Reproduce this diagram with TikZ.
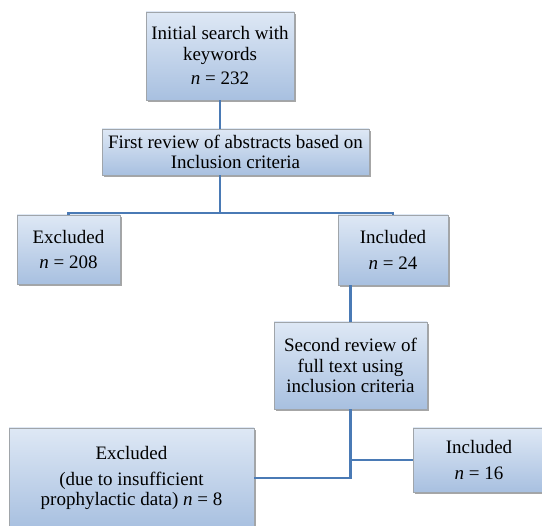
\documentclass[tikz,border=0pt]{standalone}
\usepackage{fontspec}
\setmainfont{Liberation Serif}
\usetikzlibrary{shadows}
\definecolor{boxtop}{RGB}{222,232,245}
\definecolor{boxbot}{RGB}{168,192,224}
\definecolor{boxline}{RGB}{160,165,170}
\definecolor{flowline}{RGB}{74,122,181}
\newcommand{\nn}{\textit{n}}
\begin{document}
\begin{tikzpicture}[x=1pt,y=-1pt,
  box/.style={draw=boxline,line width=0.8pt,top color=boxtop,bottom color=boxbot,
    drop shadow={shadow xshift=1.8pt,shadow yshift=-2pt,fill=black,opacity=0.35},
    align=center,inner sep=2pt,font=\fontsize{19}{20.5}\selectfont},
  link/.style={draw=flowline,line width=2.6pt}]
\useasboundingbox (0,0) rectangle (542,526);
\clip (0,0) rectangle (542,526);

\node[box,minimum width=148pt,minimum height=88pt] (search) at (220,56)
  {Initial search with\\keywords\\[4pt]\nn{} = 232};
\node[box,minimum width=267pt,minimum height=46pt] (first) at (235.5,152)
  {First review of abstracts based on\\Inclusion criteria};
\node[box,minimum width=103pt,minimum height=69pt] (excl1) at (68.5,249.5)
  {Excluded\\[5pt]\nn{} = 208};
\node[box,minimum width=110pt,minimum height=70pt] (incl1) at (393,250)
  {Included\\[5pt]\nn{} = 24};
\node[box,minimum width=153pt,minimum height=87pt] (second) at (350.5,365.5)
  {Second review of\\full text using\\inclusion criteria};
\node[box,minimum width=132pt,minimum height=64pt] (incl2) at (479,460)
  {Included\\[5pt]\nn{} = 16};
\node[box,minimum width=245pt,minimum height=100pt] (excl2) at (131.5,478)
  {Excluded\\[5pt](due to insufficient\\prophylactic data) \nn{} = 8};

\coordinate (split) at (220,213);

\draw[link] (search.south) -- (search.south |- first.north);
\draw[link] (search.south |- first.south) -- (split);
\draw[link] (excl1.north) -- (excl1.north |- split) -- (incl1.north |- split) -- (incl1.north);
\draw[link] (second.north |- incl1.south) -- (second.north);
\draw[link] (second.south) -- (second.south |- excl2.east) -- (excl2.east);
\draw[link] (second.south |- incl2.west) -- (incl2.west);

\end{tikzpicture}
\end{document}
